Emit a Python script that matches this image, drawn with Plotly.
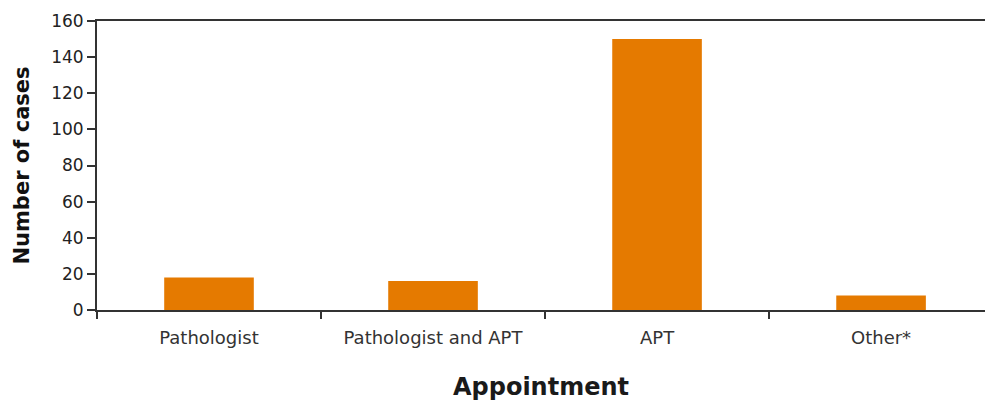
import plotly.graph_objects as go

# data
categories = ["Pathologist", "Pathologist and APT", "APT", "Other*"]
cases = [18, 16, 150, 8]
y_ticks = [0, 20, 40, 60, 80, 100, 120, 140, 160]

fig = go.Figure()
fig.add_trace(go.Bar(
    x=categories,
    y=cases,
    marker_color="#E57A00",
    marker_line_width=0,
    width=0.4,
))

fig.update_layout(
    width=985, height=406,
    margin={"l": 97, "r": 0, "t": 21, "b": 96},
    plot_bgcolor="white", paper_bgcolor="white",
    font=dict(family="DejaVu Sans, Arial, sans-serif", color="#222222"),
    showlegend=False,
    bargap=0.6,
)

# the right end of the axis runs past the picture edge, so the range stops short of 3.5
fig.update_xaxes(
    range=[-0.5, 3.464], automargin=False,
    showline=True, linecolor="#333333", linewidth=2, mirror=True,
    ticks="outside", tickson="boundaries", ticklen=7, tickcolor="#333333", tickwidth=2,
    tickfont=dict(size=18, color="#333333"), ticklabelstandoff=10,
    showgrid=False,
    title=dict(text="<b>Appointment</b>", font=dict(size=24, color="#1a1a1a"), standoff=32),
)
fig.update_yaxes(
    range=[0, 160], automargin=False,
    tickvals=y_ticks,
    showline=True, linecolor="#333333", linewidth=2,
    ticks="outside", ticklen=8, tickcolor="#333333", tickwidth=2,
    tickfont=dict(size=17, color="#222222"),
    showgrid=False, zeroline=False,
    title=dict(text="<b>Number of cases</b>", font=dict(size=21, color="#111111"), standoff=16),
)

# drop the default page margin so the figure sits at the window corner
fig.write_html("out.html", config={"displayModeBar": False},
               post_script="document.body.style.margin='0';")
